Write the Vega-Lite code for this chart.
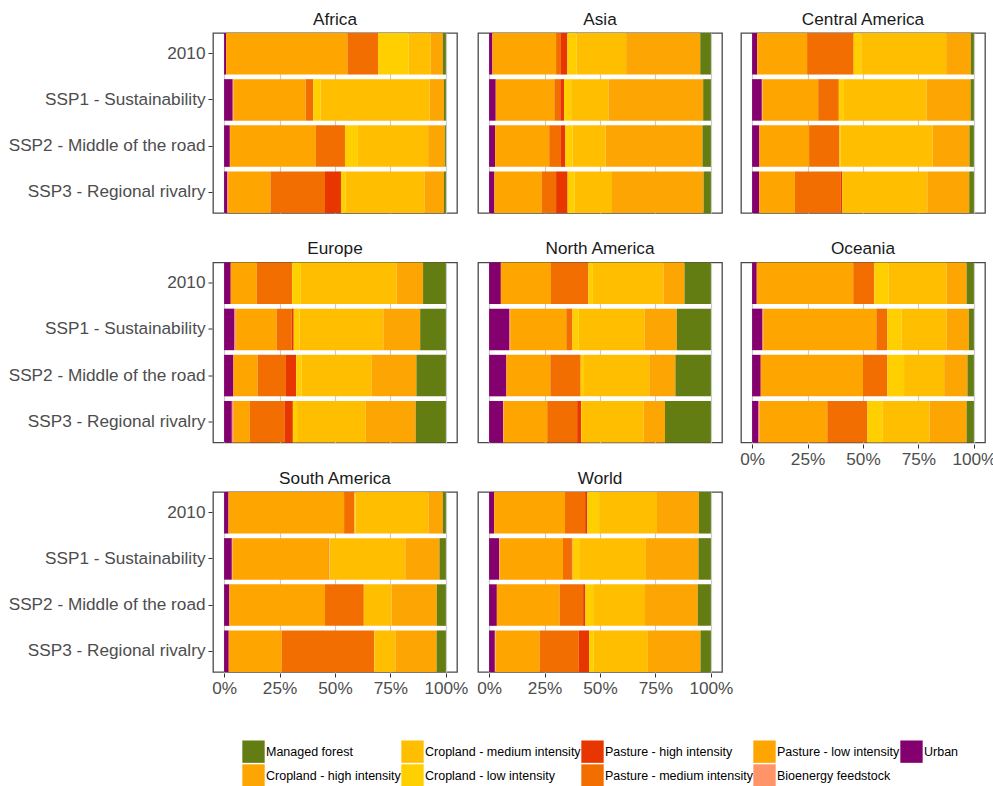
{
  "$schema": "https://vega.github.io/schema/vega-lite/v6.json",
  "background": "white",
  "padding": {"left": 8, "top": 10, "right": 6, "bottom": 0},
  "config": {
    "font": "Liberation Sans",
    "view": {"stroke": "#4a4a4a", "strokeWidth": 1.3},
    "header": {"title": null, "labelFontSize": 17.2, "labelColor": "#1a1a1a", "labelPadding": 5},
    "axisY": {"domain": false, "tickColor": "#333333", "tickSize": 4, "labelFontSize": 17.2, "labelColor": "#4d4d4d", "labelPadding": 3, "labelLimit": 260},
    "axisX": {"domain": false, "grid": true, "gridColor": "#cccccc", "gridWidth": 1.2, "tickColor": "#333333", "tickSize": 4, "labelFontSize": 17.2, "labelColor": "#4d4d4d", "labelPadding": 2, "labelFlush": false}
  },
  "datasets": {
    "landuse": [
      {"region":"Africa","scenario":"2010","land":"Urban","share":0.9},
      {"region":"Africa","scenario":"2010","land":"Pasture - low intensity","share":54.7},
      {"region":"Africa","scenario":"2010","land":"Pasture - medium intensity","share":13.8},
      {"region":"Africa","scenario":"2010","land":"Cropland - low intensity","share":13.8},
      {"region":"Africa","scenario":"2010","land":"Cropland - medium intensity","share":10},
      {"region":"Africa","scenario":"2010","land":"Cropland - high intensity","share":5.4},
      {"region":"Africa","scenario":"2010","land":"Managed forest","share":1.4},
      {"region":"Africa","scenario":"SSP1 - Sustainability","land":"Urban","share":3.9},
      {"region":"Africa","scenario":"SSP1 - Sustainability","land":"Bioenergy feedstock","share":0.3},
      {"region":"Africa","scenario":"SSP1 - Sustainability","land":"Pasture - low intensity","share":32.6},
      {"region":"Africa","scenario":"SSP1 - Sustainability","land":"Pasture - medium intensity","share":3.4},
      {"region":"Africa","scenario":"SSP1 - Sustainability","land":"Cropland - low intensity","share":3.3},
      {"region":"Africa","scenario":"SSP1 - Sustainability","land":"Cropland - medium intensity","share":49.2},
      {"region":"Africa","scenario":"SSP1 - Sustainability","land":"Cropland - high intensity","share":6.4},
      {"region":"Africa","scenario":"SSP1 - Sustainability","land":"Managed forest","share":0.9},
      {"region":"Africa","scenario":"SSP2 - Middle of the road","land":"Urban","share":2.6},
      {"region":"Africa","scenario":"SSP2 - Middle of the road","land":"Bioenergy feedstock","share":0.1},
      {"region":"Africa","scenario":"SSP2 - Middle of the road","land":"Pasture - low intensity","share":38.7},
      {"region":"Africa","scenario":"SSP2 - Middle of the road","land":"Pasture - medium intensity","share":13.1},
      {"region":"Africa","scenario":"SSP2 - Middle of the road","land":"Cropland - low intensity","share":5.8},
      {"region":"Africa","scenario":"SSP2 - Middle of the road","land":"Cropland - medium intensity","share":31.7},
      {"region":"Africa","scenario":"SSP2 - Middle of the road","land":"Cropland - high intensity","share":7.5},
      {"region":"Africa","scenario":"SSP2 - Middle of the road","land":"Managed forest","share":0.5},
      {"region":"Africa","scenario":"SSP3 - Regional rivalry","land":"Urban","share":1.5},
      {"region":"Africa","scenario":"SSP3 - Regional rivalry","land":"Bioenergy feedstock","share":0.3},
      {"region":"Africa","scenario":"SSP3 - Regional rivalry","land":"Pasture - low intensity","share":19.1},
      {"region":"Africa","scenario":"SSP3 - Regional rivalry","land":"Pasture - medium intensity","share":24.6},
      {"region":"Africa","scenario":"SSP3 - Regional rivalry","land":"Pasture - high intensity","share":7.2},
      {"region":"Africa","scenario":"SSP3 - Regional rivalry","land":"Cropland - low intensity","share":2.1},
      {"region":"Africa","scenario":"SSP3 - Regional rivalry","land":"Cropland - medium intensity","share":35.5},
      {"region":"Africa","scenario":"SSP3 - Regional rivalry","land":"Cropland - high intensity","share":8.8},
      {"region":"Africa","scenario":"SSP3 - Regional rivalry","land":"Managed forest","share":0.9},

      {"region":"Asia","scenario":"2010","land":"Urban","share":1.5},
      {"region":"Asia","scenario":"2010","land":"Pasture - low intensity","share":28.7},
      {"region":"Asia","scenario":"2010","land":"Pasture - medium intensity","share":2.2},
      {"region":"Asia","scenario":"2010","land":"Pasture - high intensity","share":2.9},
      {"region":"Asia","scenario":"2010","land":"Cropland - low intensity","share":4.2},
      {"region":"Asia","scenario":"2010","land":"Cropland - medium intensity","share":22.3},
      {"region":"Asia","scenario":"2010","land":"Cropland - high intensity","share":33.4},
      {"region":"Asia","scenario":"2010","land":"Managed forest","share":4.8},
      {"region":"Asia","scenario":"SSP1 - Sustainability","land":"Urban","share":3},
      {"region":"Asia","scenario":"SSP1 - Sustainability","land":"Pasture - low intensity","share":26.4},
      {"region":"Asia","scenario":"SSP1 - Sustainability","land":"Pasture - medium intensity","share":2.7},
      {"region":"Asia","scenario":"SSP1 - Sustainability","land":"Pasture - high intensity","share":1.7},
      {"region":"Asia","scenario":"SSP1 - Sustainability","land":"Cropland - low intensity","share":3.2},
      {"region":"Asia","scenario":"SSP1 - Sustainability","land":"Cropland - medium intensity","share":16.8},
      {"region":"Asia","scenario":"SSP1 - Sustainability","land":"Cropland - high intensity","share":42.7},
      {"region":"Asia","scenario":"SSP1 - Sustainability","land":"Managed forest","share":3.5},
      {"region":"Asia","scenario":"SSP2 - Middle of the road","land":"Urban","share":2.7},
      {"region":"Asia","scenario":"SSP2 - Middle of the road","land":"Pasture - low intensity","share":24.4},
      {"region":"Asia","scenario":"SSP2 - Middle of the road","land":"Pasture - medium intensity","share":5.3},
      {"region":"Asia","scenario":"SSP2 - Middle of the road","land":"Pasture - high intensity","share":2},
      {"region":"Asia","scenario":"SSP2 - Middle of the road","land":"Cropland - low intensity","share":3.2},
      {"region":"Asia","scenario":"SSP2 - Middle of the road","land":"Cropland - medium intensity","share":14.9},
      {"region":"Asia","scenario":"SSP2 - Middle of the road","land":"Cropland - high intensity","share":43.7},
      {"region":"Asia","scenario":"SSP2 - Middle of the road","land":"Managed forest","share":3.8},
      {"region":"Asia","scenario":"SSP3 - Regional rivalry","land":"Urban","share":2.4},
      {"region":"Asia","scenario":"SSP3 - Regional rivalry","land":"Pasture - low intensity","share":21.4},
      {"region":"Asia","scenario":"SSP3 - Regional rivalry","land":"Pasture - medium intensity","share":6.4},
      {"region":"Asia","scenario":"SSP3 - Regional rivalry","land":"Pasture - high intensity","share":5.2},
      {"region":"Asia","scenario":"SSP3 - Regional rivalry","land":"Cropland - low intensity","share":3.2},
      {"region":"Asia","scenario":"SSP3 - Regional rivalry","land":"Cropland - medium intensity","share":16.8},
      {"region":"Asia","scenario":"SSP3 - Regional rivalry","land":"Cropland - high intensity","share":41.3},
      {"region":"Asia","scenario":"SSP3 - Regional rivalry","land":"Managed forest","share":3.3},

      {"region":"Central America","scenario":"2010","land":"Urban","share":2.3},
      {"region":"Central America","scenario":"2010","land":"Pasture - low intensity","share":22.5},
      {"region":"Central America","scenario":"2010","land":"Pasture - medium intensity","share":21},
      {"region":"Central America","scenario":"2010","land":"Cropland - low intensity","share":3.4},
      {"region":"Central America","scenario":"2010","land":"Cropland - medium intensity","share":38.3},
      {"region":"Central America","scenario":"2010","land":"Cropland - high intensity","share":11.1},
      {"region":"Central America","scenario":"2010","land":"Managed forest","share":1.4},
      {"region":"Central America","scenario":"SSP1 - Sustainability","land":"Urban","share":4.4},
      {"region":"Central America","scenario":"SSP1 - Sustainability","land":"Bioenergy feedstock","share":0.3},
      {"region":"Central America","scenario":"SSP1 - Sustainability","land":"Pasture - low intensity","share":25.1},
      {"region":"Central America","scenario":"SSP1 - Sustainability","land":"Pasture - medium intensity","share":9.3},
      {"region":"Central America","scenario":"SSP1 - Sustainability","land":"Cropland - low intensity","share":2.3},
      {"region":"Central America","scenario":"SSP1 - Sustainability","land":"Cropland - medium intensity","share":37.3},
      {"region":"Central America","scenario":"SSP1 - Sustainability","land":"Cropland - high intensity","share":19.8},
      {"region":"Central America","scenario":"SSP1 - Sustainability","land":"Managed forest","share":1.5},
      {"region":"Central America","scenario":"SSP2 - Middle of the road","land":"Urban","share":3.3},
      {"region":"Central America","scenario":"SSP2 - Middle of the road","land":"Pasture - low intensity","share":22.4},
      {"region":"Central America","scenario":"SSP2 - Middle of the road","land":"Pasture - medium intensity","share":13.7},
      {"region":"Central America","scenario":"SSP2 - Middle of the road","land":"Cropland - low intensity","share":0.6},
      {"region":"Central America","scenario":"SSP2 - Middle of the road","land":"Cropland - medium intensity","share":41.4},
      {"region":"Central America","scenario":"SSP2 - Middle of the road","land":"Cropland - high intensity","share":16.6},
      {"region":"Central America","scenario":"SSP2 - Middle of the road","land":"Managed forest","share":2},
      {"region":"Central America","scenario":"SSP3 - Regional rivalry","land":"Urban","share":3.2},
      {"region":"Central America","scenario":"SSP3 - Regional rivalry","land":"Pasture - low intensity","share":16.1},
      {"region":"Central America","scenario":"SSP3 - Regional rivalry","land":"Pasture - medium intensity","share":20.7},
      {"region":"Central America","scenario":"SSP3 - Regional rivalry","land":"Pasture - high intensity","share":0.6},
      {"region":"Central America","scenario":"SSP3 - Regional rivalry","land":"Cropland - medium intensity","share":38.4},
      {"region":"Central America","scenario":"SSP3 - Regional rivalry","land":"Cropland - high intensity","share":18.9},
      {"region":"Central America","scenario":"SSP3 - Regional rivalry","land":"Managed forest","share":2.1},

      {"region":"Europe","scenario":"2010","land":"Urban","share":3},
      {"region":"Europe","scenario":"2010","land":"Pasture - low intensity","share":11.7},
      {"region":"Europe","scenario":"2010","land":"Pasture - medium intensity","share":16},
      {"region":"Europe","scenario":"2010","land":"Cropland - low intensity","share":3.9},
      {"region":"Europe","scenario":"2010","land":"Cropland - medium intensity","share":43.2},
      {"region":"Europe","scenario":"2010","land":"Cropland - high intensity","share":11.9},
      {"region":"Europe","scenario":"2010","land":"Managed forest","share":10.3},
      {"region":"Europe","scenario":"SSP1 - Sustainability","land":"Urban","share":4.7},
      {"region":"Europe","scenario":"SSP1 - Sustainability","land":"Bioenergy feedstock","share":0.7},
      {"region":"Europe","scenario":"SSP1 - Sustainability","land":"Pasture - low intensity","share":18.3},
      {"region":"Europe","scenario":"SSP1 - Sustainability","land":"Pasture - medium intensity","share":6.8},
      {"region":"Europe","scenario":"SSP1 - Sustainability","land":"Pasture - high intensity","share":0.9},
      {"region":"Europe","scenario":"SSP1 - Sustainability","land":"Cropland - low intensity","share":2.7},
      {"region":"Europe","scenario":"SSP1 - Sustainability","land":"Cropland - medium intensity","share":37.7},
      {"region":"Europe","scenario":"SSP1 - Sustainability","land":"Cropland - high intensity","share":16.6},
      {"region":"Europe","scenario":"SSP1 - Sustainability","land":"Managed forest","share":11.6},
      {"region":"Europe","scenario":"SSP2 - Middle of the road","land":"Urban","share":4.2},
      {"region":"Europe","scenario":"SSP2 - Middle of the road","land":"Pasture - low intensity","share":10.9},
      {"region":"Europe","scenario":"SSP2 - Middle of the road","land":"Pasture - medium intensity","share":12.8},
      {"region":"Europe","scenario":"SSP2 - Middle of the road","land":"Pasture - high intensity","share":4.6},
      {"region":"Europe","scenario":"SSP2 - Middle of the road","land":"Cropland - low intensity","share":2.4},
      {"region":"Europe","scenario":"SSP2 - Middle of the road","land":"Cropland - medium intensity","share":31.7},
      {"region":"Europe","scenario":"SSP2 - Middle of the road","land":"Cropland - high intensity","share":20.1},
      {"region":"Europe","scenario":"SSP2 - Middle of the road","land":"Managed forest","share":13.3},
      {"region":"Europe","scenario":"SSP3 - Regional rivalry","land":"Urban","share":3.5},
      {"region":"Europe","scenario":"SSP3 - Regional rivalry","land":"Bioenergy feedstock","share":0.9},
      {"region":"Europe","scenario":"SSP3 - Regional rivalry","land":"Pasture - low intensity","share":7.2},
      {"region":"Europe","scenario":"SSP3 - Regional rivalry","land":"Pasture - medium intensity","share":15.6},
      {"region":"Europe","scenario":"SSP3 - Regional rivalry","land":"Pasture - high intensity","share":3.8},
      {"region":"Europe","scenario":"SSP3 - Regional rivalry","land":"Cropland - low intensity","share":1.9},
      {"region":"Europe","scenario":"SSP3 - Regional rivalry","land":"Cropland - medium intensity","share":31},
      {"region":"Europe","scenario":"SSP3 - Regional rivalry","land":"Cropland - high intensity","share":22.5},
      {"region":"Europe","scenario":"SSP3 - Regional rivalry","land":"Managed forest","share":13.6},

      {"region":"North America","scenario":"2010","land":"Urban","share":5.3},
      {"region":"North America","scenario":"2010","land":"Pasture - low intensity","share":22.6},
      {"region":"North America","scenario":"2010","land":"Pasture - medium intensity","share":16.9},
      {"region":"North America","scenario":"2010","land":"Cropland - low intensity","share":2},
      {"region":"North America","scenario":"2010","land":"Cropland - medium intensity","share":31.8},
      {"region":"North America","scenario":"2010","land":"Cropland - high intensity","share":9.5},
      {"region":"North America","scenario":"2010","land":"Managed forest","share":11.9},
      {"region":"North America","scenario":"SSP1 - Sustainability","land":"Urban","share":9.2},
      {"region":"North America","scenario":"SSP1 - Sustainability","land":"Bioenergy feedstock","share":0.3},
      {"region":"North America","scenario":"SSP1 - Sustainability","land":"Pasture - low intensity","share":25.3},
      {"region":"North America","scenario":"SSP1 - Sustainability","land":"Pasture - medium intensity","share":2.8},
      {"region":"North America","scenario":"SSP1 - Sustainability","land":"Cropland - low intensity","share":2.8},
      {"region":"North America","scenario":"SSP1 - Sustainability","land":"Cropland - medium intensity","share":29.6},
      {"region":"North America","scenario":"SSP1 - Sustainability","land":"Cropland - high intensity","share":14.6},
      {"region":"North America","scenario":"SSP1 - Sustainability","land":"Managed forest","share":15.4},
      {"region":"North America","scenario":"SSP2 - Middle of the road","land":"Urban","share":7.8},
      {"region":"North America","scenario":"SSP2 - Middle of the road","land":"Pasture - low intensity","share":19.8},
      {"region":"North America","scenario":"SSP2 - Middle of the road","land":"Pasture - medium intensity","share":13.7},
      {"region":"North America","scenario":"SSP2 - Middle of the road","land":"Cropland - low intensity","share":1.5},
      {"region":"North America","scenario":"SSP2 - Middle of the road","land":"Cropland - medium intensity","share":29.4},
      {"region":"North America","scenario":"SSP2 - Middle of the road","land":"Cropland - high intensity","share":11.8},
      {"region":"North America","scenario":"SSP2 - Middle of the road","land":"Managed forest","share":16},
      {"region":"North America","scenario":"SSP3 - Regional rivalry","land":"Urban","share":6.3},
      {"region":"North America","scenario":"SSP3 - Regional rivalry","land":"Bioenergy feedstock","share":0.3},
      {"region":"North America","scenario":"SSP3 - Regional rivalry","land":"Pasture - low intensity","share":19.6},
      {"region":"North America","scenario":"SSP3 - Regional rivalry","land":"Pasture - medium intensity","share":13.5},
      {"region":"North America","scenario":"SSP3 - Regional rivalry","land":"Pasture - high intensity","share":1.8},
      {"region":"North America","scenario":"SSP3 - Regional rivalry","land":"Cropland - low intensity","share":0.4},
      {"region":"North America","scenario":"SSP3 - Regional rivalry","land":"Cropland - medium intensity","share":27.8},
      {"region":"North America","scenario":"SSP3 - Regional rivalry","land":"Cropland - high intensity","share":9.6},
      {"region":"North America","scenario":"SSP3 - Regional rivalry","land":"Managed forest","share":20.7},

      {"region":"Oceania","scenario":"2010","land":"Urban","share":2.1},
      {"region":"Oceania","scenario":"2010","land":"Pasture - low intensity","share":43.5},
      {"region":"Oceania","scenario":"2010","land":"Pasture - medium intensity","share":9.5},
      {"region":"Oceania","scenario":"2010","land":"Cropland - low intensity","share":6.5},
      {"region":"Oceania","scenario":"2010","land":"Cropland - medium intensity","share":26.1},
      {"region":"Oceania","scenario":"2010","land":"Cropland - high intensity","share":9},
      {"region":"Oceania","scenario":"2010","land":"Managed forest","share":3.3},
      {"region":"Oceania","scenario":"SSP1 - Sustainability","land":"Urban","share":4.7},
      {"region":"Oceania","scenario":"SSP1 - Sustainability","land":"Bioenergy feedstock","share":0.3},
      {"region":"Oceania","scenario":"SSP1 - Sustainability","land":"Pasture - low intensity","share":51},
      {"region":"Oceania","scenario":"SSP1 - Sustainability","land":"Pasture - medium intensity","share":5},
      {"region":"Oceania","scenario":"SSP1 - Sustainability","land":"Cropland - low intensity","share":6.3},
      {"region":"Oceania","scenario":"SSP1 - Sustainability","land":"Cropland - medium intensity","share":20.4},
      {"region":"Oceania","scenario":"SSP1 - Sustainability","land":"Cropland - high intensity","share":10},
      {"region":"Oceania","scenario":"SSP1 - Sustainability","land":"Managed forest","share":2.3},
      {"region":"Oceania","scenario":"SSP2 - Middle of the road","land":"Urban","share":3.9},
      {"region":"Oceania","scenario":"SSP2 - Middle of the road","land":"Pasture - low intensity","share":46.1},
      {"region":"Oceania","scenario":"SSP2 - Middle of the road","land":"Pasture - medium intensity","share":11},
      {"region":"Oceania","scenario":"SSP2 - Middle of the road","land":"Cropland - low intensity","share":7.5},
      {"region":"Oceania","scenario":"SSP2 - Middle of the road","land":"Cropland - medium intensity","share":18.1},
      {"region":"Oceania","scenario":"SSP2 - Middle of the road","land":"Cropland - high intensity","share":10.5},
      {"region":"Oceania","scenario":"SSP2 - Middle of the road","land":"Managed forest","share":2.9},
      {"region":"Oceania","scenario":"SSP3 - Regional rivalry","land":"Urban","share":2.9},
      {"region":"Oceania","scenario":"SSP3 - Regional rivalry","land":"Bioenergy feedstock","share":0.4},
      {"region":"Oceania","scenario":"SSP3 - Regional rivalry","land":"Pasture - low intensity","share":30.6},
      {"region":"Oceania","scenario":"SSP3 - Regional rivalry","land":"Pasture - medium intensity","share":18.1},
      {"region":"Oceania","scenario":"SSP3 - Regional rivalry","land":"Cropland - low intensity","share":6.7},
      {"region":"Oceania","scenario":"SSP3 - Regional rivalry","land":"Cropland - medium intensity","share":21.3},
      {"region":"Oceania","scenario":"SSP3 - Regional rivalry","land":"Cropland - high intensity","share":16.7},
      {"region":"Oceania","scenario":"SSP3 - Regional rivalry","land":"Managed forest","share":3.3},

      {"region":"South America","scenario":"2010","land":"Urban","share":2},
      {"region":"South America","scenario":"2010","land":"Pasture - low intensity","share":52.1},
      {"region":"South America","scenario":"2010","land":"Pasture - medium intensity","share":4.7},
      {"region":"South America","scenario":"2010","land":"Cropland - low intensity","share":0.4},
      {"region":"South America","scenario":"2010","land":"Cropland - medium intensity","share":32.9},
      {"region":"South America","scenario":"2010","land":"Cropland - high intensity","share":6.5},
      {"region":"South America","scenario":"2010","land":"Managed forest","share":1.4},
      {"region":"South America","scenario":"SSP1 - Sustainability","land":"Urban","share":3.5},
      {"region":"South America","scenario":"SSP1 - Sustainability","land":"Bioenergy feedstock","share":0.3},
      {"region":"South America","scenario":"SSP1 - Sustainability","land":"Pasture - low intensity","share":43.2},
      {"region":"South America","scenario":"SSP1 - Sustainability","land":"Pasture - medium intensity","share":0.4},
      {"region":"South America","scenario":"SSP1 - Sustainability","land":"Cropland - low intensity","share":0.2},
      {"region":"South America","scenario":"SSP1 - Sustainability","land":"Cropland - medium intensity","share":34.1},
      {"region":"South America","scenario":"SSP1 - Sustainability","land":"Cropland - high intensity","share":15.4},
      {"region":"South America","scenario":"SSP1 - Sustainability","land":"Managed forest","share":2.9},
      {"region":"South America","scenario":"SSP2 - Middle of the road","land":"Urban","share":2.4},
      {"region":"South America","scenario":"SSP2 - Middle of the road","land":"Pasture - low intensity","share":43.1},
      {"region":"South America","scenario":"SSP2 - Middle of the road","land":"Pasture - medium intensity","share":17.5},
      {"region":"South America","scenario":"SSP2 - Middle of the road","land":"Cropland - low intensity","share":0.1},
      {"region":"South America","scenario":"SSP2 - Middle of the road","land":"Cropland - medium intensity","share":12.4},
      {"region":"South America","scenario":"SSP2 - Middle of the road","land":"Cropland - high intensity","share":20.4},
      {"region":"South America","scenario":"SSP2 - Middle of the road","land":"Managed forest","share":4.1},
      {"region":"South America","scenario":"SSP3 - Regional rivalry","land":"Urban","share":2.1},
      {"region":"South America","scenario":"SSP3 - Regional rivalry","land":"Pasture - low intensity","share":23.9},
      {"region":"South America","scenario":"SSP3 - Regional rivalry","land":"Pasture - medium intensity","share":41.7},
      {"region":"South America","scenario":"SSP3 - Regional rivalry","land":"Cropland - low intensity","share":0.1},
      {"region":"South America","scenario":"SSP3 - Regional rivalry","land":"Cropland - medium intensity","share":9.4},
      {"region":"South America","scenario":"SSP3 - Regional rivalry","land":"Cropland - high intensity","share":18.6},
      {"region":"South America","scenario":"SSP3 - Regional rivalry","land":"Managed forest","share":4.2},

      {"region":"World","scenario":"2010","land":"Urban","share":2.3},
      {"region":"World","scenario":"2010","land":"Pasture - low intensity","share":31.9},
      {"region":"World","scenario":"2010","land":"Pasture - medium intensity","share":9.1},
      {"region":"World","scenario":"2010","land":"Pasture - high intensity","share":1},
      {"region":"World","scenario":"2010","land":"Cropland - low intensity","share":5.3},
      {"region":"World","scenario":"2010","land":"Cropland - medium intensity","share":26.1},
      {"region":"World","scenario":"2010","land":"Cropland - high intensity","share":18.9},
      {"region":"World","scenario":"2010","land":"Managed forest","share":5.4},
      {"region":"World","scenario":"SSP1 - Sustainability","land":"Urban","share":4.5},
      {"region":"World","scenario":"SSP1 - Sustainability","land":"Bioenergy feedstock","share":0.3},
      {"region":"World","scenario":"SSP1 - Sustainability","land":"Pasture - low intensity","share":28.5},
      {"region":"World","scenario":"SSP1 - Sustainability","land":"Pasture - medium intensity","share":3.8},
      {"region":"World","scenario":"SSP1 - Sustainability","land":"Pasture - high intensity","share":0.5},
      {"region":"World","scenario":"SSP1 - Sustainability","land":"Cropland - low intensity","share":3},
      {"region":"World","scenario":"SSP1 - Sustainability","land":"Cropland - medium intensity","share":30.1},
      {"region":"World","scenario":"SSP1 - Sustainability","land":"Cropland - high intensity","share":23.7},
      {"region":"World","scenario":"SSP1 - Sustainability","land":"Managed forest","share":5.6},
      {"region":"World","scenario":"SSP2 - Middle of the road","land":"Urban","share":3.5},
      {"region":"World","scenario":"SSP2 - Middle of the road","land":"Pasture - low intensity","share":28.3},
      {"region":"World","scenario":"SSP2 - Middle of the road","land":"Pasture - medium intensity","share":10.6},
      {"region":"World","scenario":"SSP2 - Middle of the road","land":"Pasture - high intensity","share":1},
      {"region":"World","scenario":"SSP2 - Middle of the road","land":"Cropland - low intensity","share":3.5},
      {"region":"World","scenario":"SSP2 - Middle of the road","land":"Cropland - medium intensity","share":23.4},
      {"region":"World","scenario":"SSP2 - Middle of the road","land":"Cropland - high intensity","share":23.8},
      {"region":"World","scenario":"SSP2 - Middle of the road","land":"Managed forest","share":5.9},
      {"region":"World","scenario":"SSP3 - Regional rivalry","land":"Urban","share":2.6},
      {"region":"World","scenario":"SSP3 - Regional rivalry","land":"Bioenergy feedstock","share":0.3},
      {"region":"World","scenario":"SSP3 - Regional rivalry","land":"Pasture - low intensity","share":19.9},
      {"region":"World","scenario":"SSP3 - Regional rivalry","land":"Pasture - medium intensity","share":17.6},
      {"region":"World","scenario":"SSP3 - Regional rivalry","land":"Pasture - high intensity","share":4.7},
      {"region":"World","scenario":"SSP3 - Regional rivalry","land":"Cropland - low intensity","share":2.1},
      {"region":"World","scenario":"SSP3 - Regional rivalry","land":"Cropland - medium intensity","share":24.4},
      {"region":"World","scenario":"SSP3 - Regional rivalry","land":"Cropland - high intensity","share":23.7},
      {"region":"World","scenario":"SSP3 - Regional rivalry","land":"Managed forest","share":4.7}
    ]
  },
  "data": {"name": "landuse"},
  "transform": [
    {"calculate": "indexof(['Urban','Bioenergy feedstock','Pasture - low intensity','Pasture - medium intensity','Pasture - high intensity','Cropland - low intensity','Cropland - medium intensity','Cropland - high intensity','Managed forest'], datum.land)", "as": "stack_rank"}
  ],
  "spacing": 6,
  "hconcat": [
    {
      "transform": [{"filter": "datum.region != 'Central America' && datum.region != 'Oceania'"}],
      "facet": {"field": "region", "type": "nominal"},
      "columns": 2,
      "spacing": {"column": 19, "row": 25.5},
      "spec": {
        "width": 244,
        "height": 180,
        "mark": {"type": "bar"},
        "encoding": {
          "y": {"field": "scenario", "type": "nominal", "title": null, "scale": {"paddingInner": 0.1, "paddingOuter": 0}},
          "x": {
            "field": "share", "type": "quantitative", "title": null, "stack": "zero",
            "scale": {"domain": [-5, 105], "nice": false, "zero": false},
            "axis": {"values": [0, 25, 50, 75, 100], "labelExpr": "datum.value + '%'"}
          },
          "order": {"field": "stack_rank", "type": "quantitative"},
          "color": {
            "field": "land",
            "type": "nominal",
            "title": null,
            "scale": {
              "domain": ["Managed forest", "Cropland - high intensity", "Cropland - medium intensity", "Cropland - low intensity", "Pasture - high intensity", "Pasture - medium intensity", "Pasture - low intensity", "Bioenergy feedstock", "Urban"],
              "range": ["#647d12", "#fca503", "#ffbf00", "#ffcf00", "#e83600", "#f26e00", "#ffa500", "#ff9468", "#85006f"]
            },
            "legend": {
              "orient": "none",
              "legendX": 29,
              "legendY": 707,
              "direction": "vertical",
              "columns": 5,
              "symbolType": "square",
              "symbolSize": 500,
              "symbolStrokeWidth": 0,
              "labelFontSize": 12.5,
              "labelColor": "#000000",
              "labelOffset": 1,
              "columnPadding": 0,
              "rowPadding": 1,
              "labelLimit": 200
            }
          }
        }
      }
    },
    {
      "transform": [{"filter": "datum.region == 'Central America' || datum.region == 'Oceania'"}],
      "facet": {"field": "region", "type": "nominal"},
      "columns": 1,
      "spacing": {"row": 25.5},
      "spec": {
        "width": 244,
        "height": 180,
        "mark": {"type": "bar"},
        "encoding": {
          "y": {"field": "scenario", "type": "nominal", "title": null, "axis": null, "scale": {"paddingInner": 0.1, "paddingOuter": 0}},
          "x": {
            "field": "share", "type": "quantitative", "title": null, "stack": "zero",
            "scale": {"domain": [-5, 105], "nice": false, "zero": false},
            "axis": {"values": [0, 25, 50, 75, 100], "labelExpr": "datum.value + '%'"}
          },
          "order": {"field": "stack_rank", "type": "quantitative"},
          "color": {
            "field": "land",
            "type": "nominal",
            "title": null,
            "scale": {
              "domain": ["Managed forest", "Cropland - high intensity", "Cropland - medium intensity", "Cropland - low intensity", "Pasture - high intensity", "Pasture - medium intensity", "Pasture - low intensity", "Bioenergy feedstock", "Urban"],
              "range": ["#647d12", "#fca503", "#ffbf00", "#ffcf00", "#e83600", "#f26e00", "#ffa500", "#ff9468", "#85006f"]
            },
            "legend": null
          }
        }
      }
    }
  ]
}
